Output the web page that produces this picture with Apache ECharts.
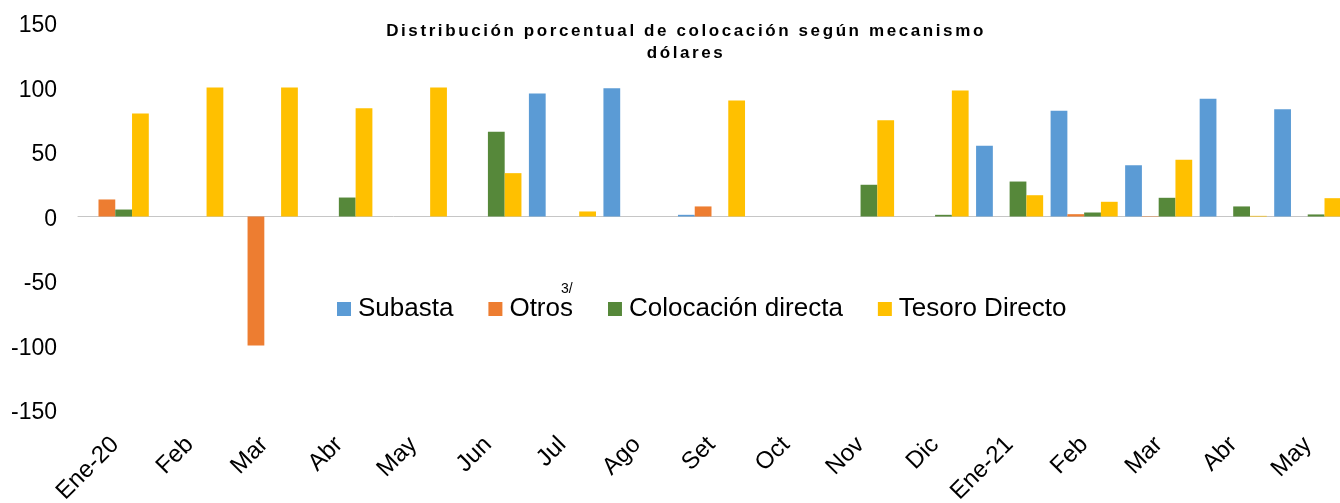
<!DOCTYPE html>
<html>
<head>
<meta charset="utf-8">
<script src="https://cdn.jsdelivr.net/npm/echarts@6/dist/echarts.min.js"></script>
<style>
html,body{margin:0;padding:0;background:#fff;}
#chart{width:1340px;height:503px;}
</style>
</head>
<body>
<div id="chart"></div>
<script>
var categories = ['Ene-20','Feb','Mar','Abr','May','Jun','Jul','Ago','Set','Oct','Nov','Dic','Ene-21','Feb','Mar','Abr','May'];
var subasta    = [0, 0, 0, 0, 0, 0, 95.3, 99.5, 1.3, 0, 0, 0, 54.8, 81.9, 39.8, 91.2, 83.2];
var otros      = [13.2, 0, -100, 0, 0, 0, 0, 0, 7.8, 0, 0, 0, 0, 1.8, 0.3, 0, 0];
var colocacion = [5.4, 0, 0, 14.7, 0, 65.7, 0, 0, 0, 0, 24.6, 1.3, 27.1, 3.1, 14.5, 7.8, 1.6];
var tesoro     = [79.8, 100, 100, 84, 100, 33.6, 3.9, 0, 89.9, 0, 74.7, 97.7, 16.5, 11.4, 44, 0.5, 14.2];
var yTicks = {min: -150, max: 150, interval: 50};
var seriesNames = ['Subasta', 'Otros', 'Colocación directa', 'Tesoro Directo'];
var colors = ['#5B9BD5', '#ED7D31', '#56883A', '#FFC000'];
var titleLines = ['Distribución porcentual de colocación según mecanismo', 'dólares'];
var footnote = '3/';

// Title in the reference is letter-spaced: widen only those two lines when drawn.
(function () {
  var proto = CanvasRenderingContext2D.prototype;
  var origFill = proto.fillText;
  proto.fillText = function (text, x, y, maxW) {
    if (titleLines.indexOf(text) >= 0 && 'letterSpacing' in this) {
      var prev = this.letterSpacing;
      this.letterSpacing = '2.6px';
      var r = maxW === undefined ? origFill.call(this, text, x, y) : origFill.call(this, text, x, y, maxW);
      this.letterSpacing = prev;
      return r;
    }
    return origFill.apply(this, arguments);
  };
})();

var FONT = '"Liberation Sans", Arial, sans-serif';
var chart = echarts.init(document.getElementById('chart'), null, {renderer: 'canvas'});
var dataSets = [subasta, otros, colocacion, tesoro];
var series = seriesNames.map(function (n, i) {
  return {
    name: n,
    type: 'bar',
    data: dataSets[i],
    barGap: '0%',
    barCategoryGap: '10%',
    itemStyle: {color: colors[i]}
  };
});
chart.setOption({
  animation: false,
  color: colors,
  textStyle: {fontFamily: FONT},
  title: {
    text: titleLines.join('\n'),
    left: 686,
    textAlign: 'center',
    top: 20,
    padding: 0,
    textStyle: {fontSize: 17, fontWeight: 'bold', color: '#000', lineHeight: 22, fontFamily: FONT}
  },
  legend: {
    data: seriesNames,
    left: 337,
    top: 296,
    padding: 0,
    itemWidth: 14,
    itemHeight: 14,
    itemGap: 35,
    icon: 'rect',
    textStyle: {fontSize: 26, color: '#000', fontFamily: FONT, padding: [0, 0, 0, 2]}
  },
  graphic: [{
    type: 'text',
    left: 561,
    top: 282,
    style: {text: footnote, fontSize: 14, lineHeight: 12, fill: '#000', fontFamily: FONT}
  }],
  grid: {left: 78, right: -5, top: 23, bottom: 93, outerBoundsMode: 'none', containLabel: false},
  xAxis: [{
    type: 'category',
    data: categories,
    position: 'bottom',
    axisLine: {show: false, onZero: false},
    axisTick: {show: false},
    splitLine: {show: false},
    axisLabel: {
      interval: 0,
      rotate: 45,
      fontSize: 24,
      color: '#000',
      margin: 31,
      align: 'right',
      verticalAlign: 'middle',
      fontFamily: FONT
    }
  }, {
    type: 'category',
    data: categories,
    position: 'top',
    axisLine: {show: true, onZero: true, lineStyle: {color: '#C6C6C6', width: 1}},
    axisTick: {show: false},
    axisLabel: {show: false},
    splitLine: {show: false}
  }],
  yAxis: {
    type: 'value',
    min: yTicks.min,
    max: yTicks.max,
    interval: yTicks.interval,
    axisLine: {show: false},
    axisTick: {show: false},
    splitLine: {show: false},
    axisLabel: {
      fontSize: 23, color: '#000', margin: 21, fontFamily: FONT,
      formatter: '{v|{value}}',
      rich: {v: {fontSize: 23, color: '#000', fontFamily: FONT, padding: [6, 0, 0, 0]}}
    }
  },
  series: series
});
</script>
</body>
</html>
